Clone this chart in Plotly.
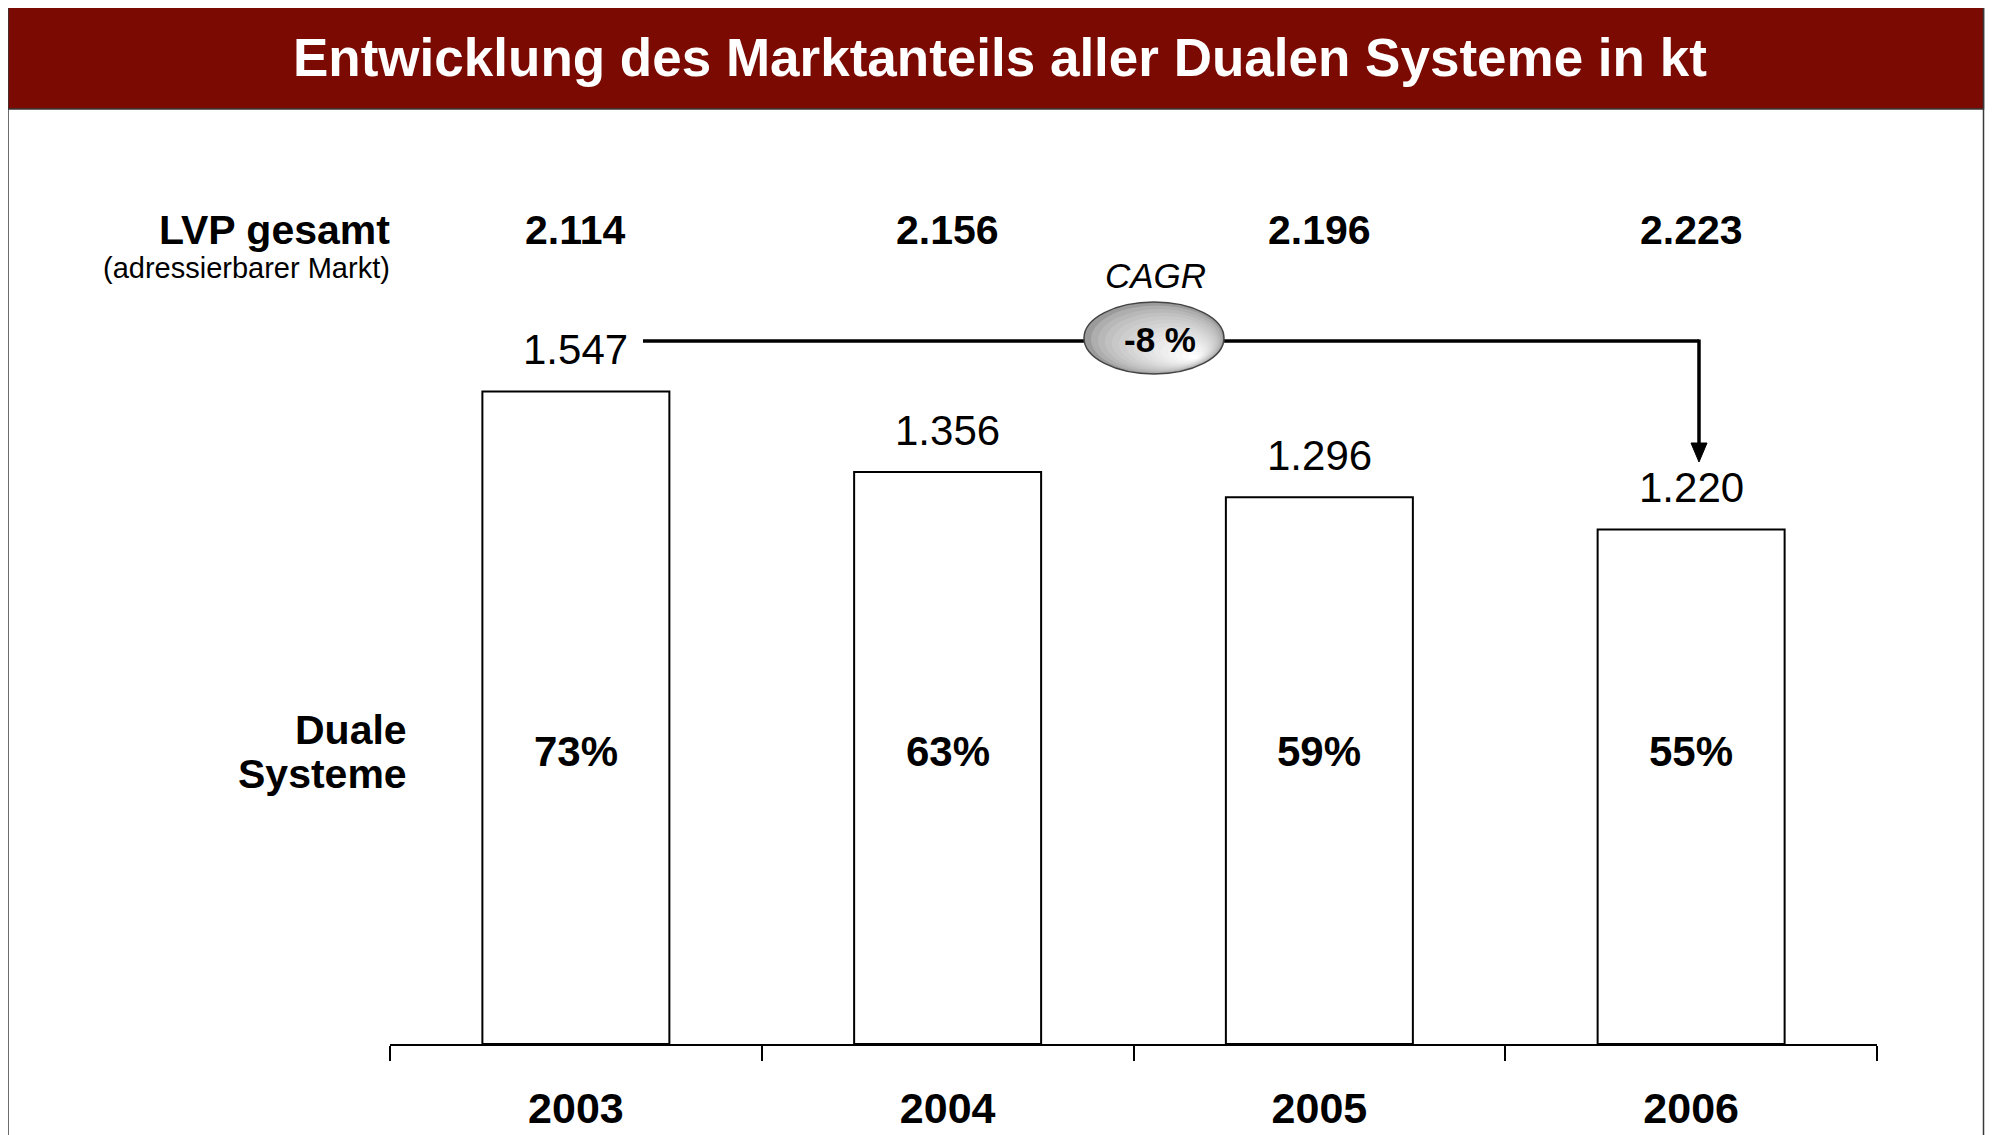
import plotly.graph_objects as go

# ---- data ----
years = ["2003", "2004", "2005", "2006"]
lvp_total = [2114, 2156, 2196, 2223]          # LVP gesamt (adressierbarer Markt), kt
duale_systeme = [1547, 1356, 1296, 1220]      # Duale Systeme, kt
shares = [73, 63, 59, 55]                     # market share, %
cagr_label = "-8 %"
title_text = "Entwicklung des Marktanteils aller Dualen Systeme in kt"

# ---- layout geometry (page pixels) ----
W, H = 1993, 1135
OFF = 8                   # browser body margin
L, R = 390, 1877          # plot area left/right (page coords)
T, Y0 = 120, 1044         # plot area top / axis baseline (page coords)
PX_PER_UNIT = 0.4218
YMAX = (Y0 - T) / PX_PER_UNIT
RIGHT_EDGE = 1983.5       # last visible page column

FONT = "Arial, Liberation Sans, sans-serif"


def px(X):
    return (X - L) / (R - L)


def py(Y):
    return (Y0 - Y) / (Y0 - T)


def de(v):
    return f"{v:,}".replace(",", ".")


fig = go.Figure()
fig.add_trace(go.Bar(
    x=years, y=duale_systeme, width=0.503,
    marker=dict(color="white", line=dict(color="black", width=2)),
    hoverinfo="skip", showlegend=False,
))

annotations = []
# title
annotations.append(dict(xref="paper", yref="paper", x=px(1000), y=py(57),
                        text="<b>" + title_text + "</b>", showarrow=False,
                        font=dict(family=FONT, size=53, color="white"),
                        xanchor="center", yanchor="middle"))
# left labels
annotations.append(dict(xref="paper", yref="paper", x=px(392), y=py(230),
                        text="<b>LVP gesamt</b>", showarrow=False,
                        font=dict(family=FONT, size=41, color="black"),
                        xanchor="right", yanchor="middle"))
annotations.append(dict(xref="paper", yref="paper", x=px(392), y=py(268),
                        text="(adressierbarer Markt)", showarrow=False,
                        font=dict(family=FONT, size=29, color="black"),
                        xanchor="right", yanchor="middle"))
annotations.append(dict(xref="paper", yref="paper", x=px(409), y=py(730),
                        text="<b>Duale</b>", showarrow=False,
                        font=dict(family=FONT, size=41, color="black"),
                        xanchor="right", yanchor="middle"))
annotations.append(dict(xref="paper", yref="paper", x=px(409), y=py(774),
                        text="<b>Systeme</b>", showarrow=False,
                        font=dict(family=FONT, size=41, color="black"),
                        xanchor="right", yanchor="middle"))

for i, (tot, val, sh) in enumerate(zip(lvp_total, duale_systeme, shares)):
    annotations.append(dict(xref="x", yref="paper", x=i, y=py(230),
                            text="<b>" + de(tot) + "</b>", showarrow=False,
                            font=dict(family=FONT, size=41, color="black"),
                            xanchor="center", yanchor="middle"))
    annotations.append(dict(xref="x", yref="y", x=i, y=val, yshift=42,
                            text=de(val), showarrow=False,
                            font=dict(family=FONT, size=42, color="black"),
                            xanchor="center", yanchor="middle"))
    annotations.append(dict(xref="x", yref="paper", x=i, y=py(752),
                            text="<b>" + str(sh) + "%</b>", showarrow=False,
                            font=dict(family=FONT, size=42, color="black"),
                            xanchor="center", yanchor="middle"))

# CAGR
annotations.append(dict(xref="paper", yref="paper", x=px(1155), y=py(275),
                        text="<i>CAGR</i>", showarrow=False,
                        font=dict(family=FONT, size=35, color="black"),
                        xanchor="center", yanchor="middle"))
annotations.append(dict(xref="paper", yref="paper", x=px(1160), y=py(339),
                        text="<b>" + cagr_label + "</b>", showarrow=False,
                        font=dict(family=FONT, size=35, color="black"),
                        xanchor="center", yanchor="middle"))

shapes = []
# frame
frame = dict(color="#3a3a3a", width=1.5)
shapes.append(dict(type="line", xref="paper", yref="paper",
                   x0=px(8), x1=px(8), y0=py(6), y1=py(H + 20), line=frame))
shapes.append(dict(type="line", xref="paper", yref="paper",
                   x0=px(RIGHT_EDGE), x1=px(RIGHT_EDGE), y0=py(6), y1=py(H + 20), line=frame))
# title bar
shapes.append(dict(type="rect", xref="paper", yref="paper",
                   x0=px(8), x1=px(RIGHT_EDGE), y0=py(109), y1=py(6),
                   fillcolor="#7B0A02", line=dict(color="#3a3a3a", width=1.5)))

# CAGR connector line
line_y = 341
arrow_x = 1699
shapes.append(dict(type="line", xref="paper", yref="paper",
                   x0=px(643), x1=px(arrow_x), y0=py(line_y), y1=py(line_y),
                   line=dict(color="black", width=3.5)))
shapes.append(dict(type="line", xref="paper", yref="paper",
                   x0=px(arrow_x), x1=px(arrow_x), y0=py(line_y - 1.5), y1=py(446),
                   line=dict(color="black", width=3.5)))
tip_y = 462
shapes.append(dict(type="path", xref="paper", yref="paper",
                   path=f"M {px(arrow_x-8)},{py(443)} L {px(arrow_x+8)},{py(443)} L {px(arrow_x)},{py(tip_y)} Z",
                   fillcolor="black", line=dict(color="black", width=1)))

# gradient ellipse
ex0, ex1, ey0, ey1 = 1084, 1224, 302, 374
cx, cy = (ex0 + ex1) / 2, (ey0 + ey1) / 2
ax_, by_ = (ex1 - ex0) / 2, (ey1 - ey0) / 2
Px, Py = 1196, 358
n = 16
for k in range(n):
    s = 1 - k / n
    ccx = Px + s * (cx - Px)
    ccy = Py + s * (cy - Py)
    g = int(155 + (255 - 155) * (k / (n - 1)) ** 0.6)
    col = f"rgb({g},{g},{g})"
    shapes.append(dict(type="circle", xref="paper", yref="paper",
                       x0=px(ccx - ax_ * s), x1=px(ccx + ax_ * s),
                       y0=py(ccy + by_ * s), y1=py(ccy - by_ * s),
                       fillcolor=col, line=dict(width=0)))
shapes.append(dict(type="circle", xref="paper", yref="paper",
                   x0=px(ex0), x1=px(ex1), y0=py(ey1), y1=py(ey0),
                   fillcolor="rgba(0,0,0,0)", line=dict(color="#444444", width=1.5)))

fig.update_layout(
    width=W, height=H,
    margin=dict(l=L - OFF, r=W - (R - OFF), t=T - OFF, b=H - (Y0 - OFF), pad=0),
    paper_bgcolor="white", plot_bgcolor="white",
    showlegend=False,
    annotations=annotations,
    shapes=shapes,
    xaxis=dict(type="category", range=[-0.5, 3.5], showline=True,
               linecolor="black", linewidth=2, ticks="outside",
               tickson="boundaries", ticklen=15, tickwidth=1.5,
               tickcolor="black", showgrid=False, zeroline=False,
               ticklabelstandoff=25,
               tickfont=dict(family=FONT, size=43, color="black", weight="bold"),
               fixedrange=True),
    yaxis=dict(range=[0, YMAX], visible=False, showgrid=False,
               zeroline=False, fixedrange=True),
    font=dict(family=FONT),
)

fig.write_html("out.html", config={"displayModeBar": False})
